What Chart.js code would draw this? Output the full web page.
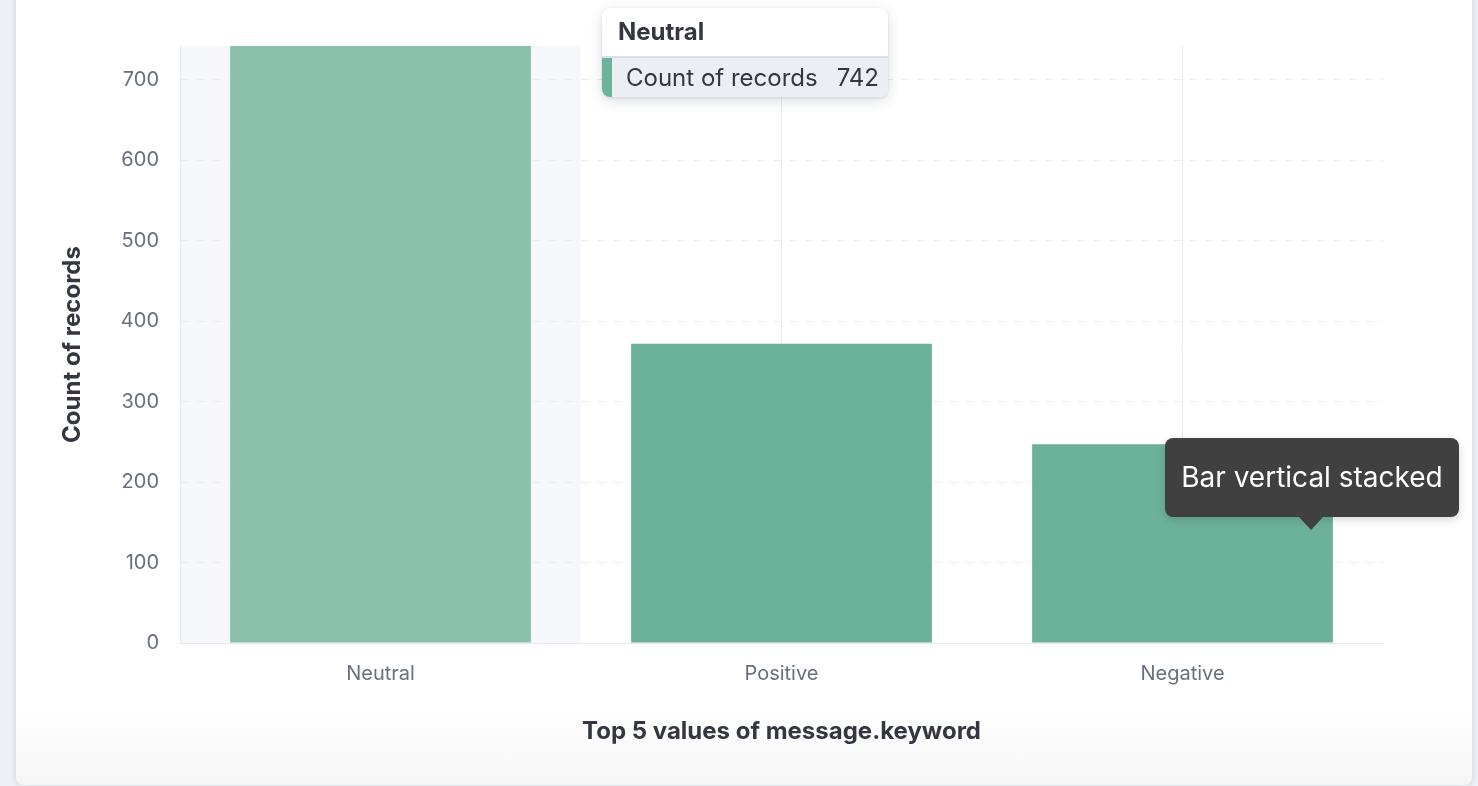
<!DOCTYPE html>
<html>
<head>
<meta charset="utf-8">
<script src="https://cdn.jsdelivr.net/npm/chart.js@4/dist/chart.umd.min.js"></script>
<style>
  html, body { margin: 0; padding: 0; }
  body {
    width: 1478px; height: 786px; overflow: hidden; position: relative;
    background: #eef0f5; font-family: Inter, "Noto Sans", sans-serif;
  }
  .card {
    position: absolute; left: 16px; top: -20px; width: 1456px; height: 805px;
    background: linear-gradient(to bottom, #fff 0, #fff 730px, #f6f6f7 805px);
    border-radius: 8px;
    box-shadow: 0 0 6px rgba(60, 70, 90, 0.18);
  }
  #chart { position: absolute; left: 0; top: 0; }
  .tip {
    position: absolute; left: 602px; top: 8px; width: 286px; height: 89px;
    background: #fff; border-radius: 8px; overflow: hidden;
    box-shadow: 0 4px 14px rgba(40, 50, 70, 0.16), 0 1px 3px rgba(40, 50, 70, 0.1);
  }
  .tip .head {
    height: 48px; padding-left: 16px; line-height: 48px;
    font-weight: 700; font-size: 24px; color: #343741;
    border-bottom: 2px solid #d8dee9;
  }
  .tip .row {
    position: relative; height: 39px; background: #eceef3;
    font-size: 24px; color: #343741; line-height: 39px;
  }
  .tip .row .swatch { position: absolute; left: 0; top: 0; width: 10px; height: 39px; background: #6db39b; }
  .tip .row .lbl { position: absolute; left: 24px; }
  .tip .row .val { position: absolute; right: 9px; }
  .dark {
    position: absolute; left: 1165px; top: 438px; width: 294px; height: 79px;
    background: #404040; border-radius: 8px; color: #fff;
    font-size: 28px; line-height: 79px; text-align: center;
    box-shadow: 0 3px 10px rgba(0, 0, 0, 0.15);
  }
  .dark:after {
    content: ""; position: absolute; left: 134px; top: 79px;
    border-left: 12px solid transparent; border-right: 12px solid transparent;
    border-top: 13px solid #404040;
  }
</style>
</head>
<body>
<div class="card"></div>
<canvas id="chart" width="1478" height="786"></canvas>
<div class="tip">
  <div class="head">Neutral</div>
  <div class="row"><span class="swatch"></span><span class="lbl">Count of records</span><span class="val">742</span></div>
</div>
<div class="dark">Bar vertical stacked</div>
<script>
const categories = ['Neutral', 'Positive', 'Negative'];
const counts = [742, 372, 247];
const yTickStep = 100;
const xTitle = 'Top 5 values of message.keyword';
const yTitle = 'Count of records';
const hoveredIndex = 0;

const barColor = '#6cb29a';
const hoverBarColor = '#8ac1ad';
const gridColor = '#eaecf1';
const tickColor = '#69707d';
const titleColor = '#343741';

Chart.defaults.font.family = 'Inter, "Noto Sans", sans-serif';

/* Light column behind the hovered category, drawn before the grid */
const hoverColumn = {
  id: 'hoverColumn',
  beforeDraw(chart) {
    const x = chart.scales.x;
    const area = chart.chartArea;
    const step = (area.right - area.left) / categories.length;
    const cx = x.getPixelForValue(hoveredIndex);
    const ctx = chart.ctx;
    ctx.save();
    ctx.fillStyle = '#f5f7fa';
    ctx.fillRect(cx - step / 2, area.top, step, area.bottom - area.top);
    ctx.restore();
  }
};

new Chart(document.getElementById('chart'), {
  type: 'bar',
  data: {
    labels: categories,
    datasets: [{
      label: yTitle,
      data: counts,
      backgroundColor: counts.map((v, i) => i === hoveredIndex ? hoverBarColor : barColor),
      borderWidth: 0,
      categoryPercentage: 1,
      barPercentage: 0.75
    }]
  },
  options: {
    responsive: false,
    animation: false,
    events: [],
    layout: { padding: { top: 46, right: 95, left: 50, bottom: 34 } },
    plugins: {
      legend: { display: false },
      tooltip: { enabled: false }
    },
    scales: {
      x: {
        grid: { offset: false, color: gridColor, lineWidth: 1, drawTicks: false },
        border: { display: true, color: '#e6e9ef' },
        ticks: { color: tickColor, font: { size: 20 }, padding: 19 },
        title: {
          display: true, text: xTitle, color: titleColor,
          font: { size: 24, weight: 'bold', lineHeight: 1.2 }, padding: { top: 0, bottom: 6 }
        },
        afterFit: scale => { scale.height = 109; }
      },
      y: {
        min: 0,
        max: Math.max(...counts),
        grid: { color: gridColor, lineWidth: 1, drawTicks: false },
        border: { display: true, color: '#e6e9ef', dash: [8, 8] },
        ticks: { stepSize: yTickStep, color: tickColor, font: { size: 20 }, padding: 21 },
        afterBuildTicks: scale => {
          scale.ticks = scale.ticks.filter(t => t.value % yTickStep === 0);
        },
        title: {
          display: true, text: yTitle, color: titleColor,
          font: { size: 24, weight: 'bold', lineHeight: 1.2 }, padding: { top: 8, bottom: 0 }
        },
        afterFit: scale => { scale.width = 130; }
      }
    }
  },
  plugins: [hoverColumn]
});
</script>
</body>
</html>
